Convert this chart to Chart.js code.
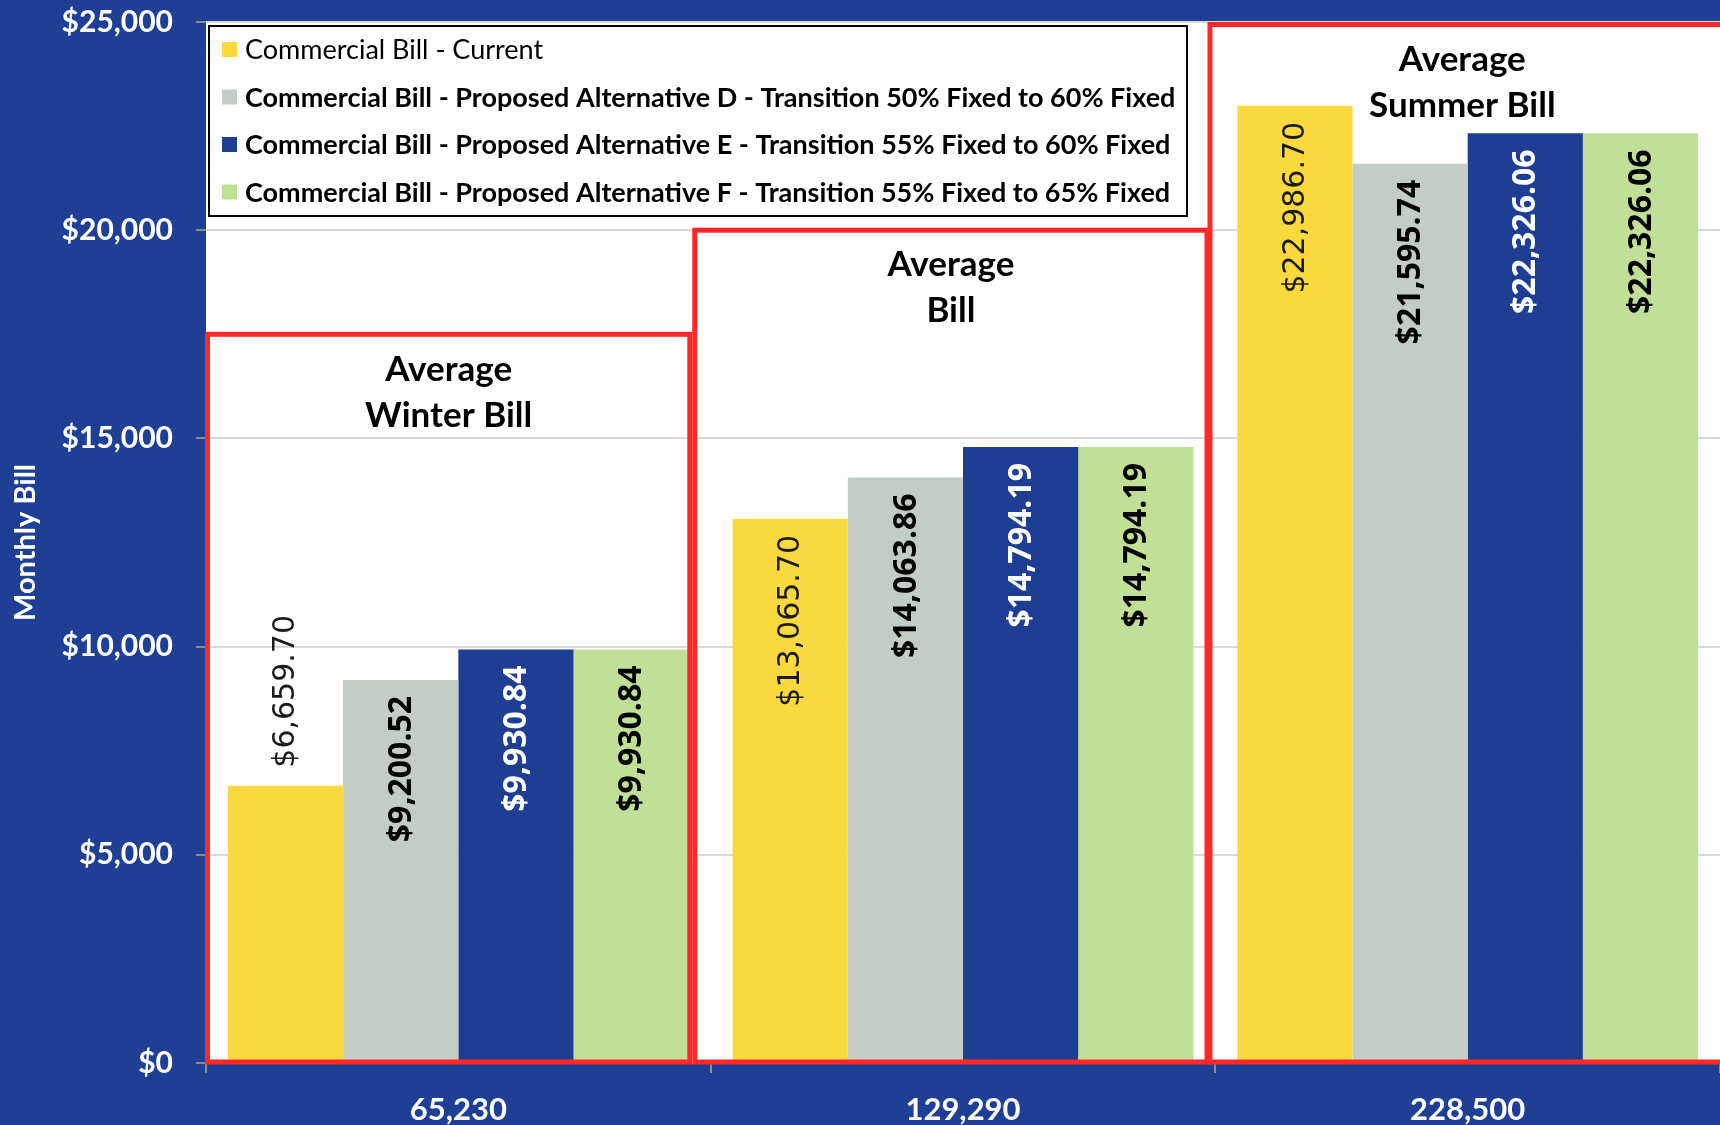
<!DOCTYPE html>
<html>
<head>
<meta charset="utf-8">
<script src="https://cdn.jsdelivr.net/npm/chart.js@4.4.1/dist/chart.umd.min.js"></script>
<style>
  html, body { margin: 0; padding: 0; background: #1E3F93; overflow: hidden; }
  canvas { display: block; }
</style>
</head>
<body>
<canvas id="billChart" width="1720" height="1125"></canvas>
<script>
// Monthly usage levels on the category axis
const categories = ['65,230', '129,290', '228,500'];

// Series names
const seriesNames = [
  'Commercial Bill - Current',
  'Commercial Bill - Proposed Alternative D - Transition 50% Fixed to 60% Fixed',
  'Commercial Bill - Proposed Alternative E - Transition 55% Fixed to 60% Fixed',
  'Commercial Bill - Proposed Alternative F - Transition 55% Fixed to 65% Fixed'
];

// Monthly bill values ($)
const currentBill = [6659.70, 13065.70, 22986.70];
const altDBill = [9200.52, 14063.86, 21595.74];
const altEBill = [9930.84, 14794.19, 22326.06];
const altFBill = [9930.84, 14794.19, 22326.06];

// Value axis ticks
const yTickValues = [0, 5000, 10000, 15000, 20000, 25000];

// Group captions and the bill level each outlined group reaches up to
const groupTitles = [['Average', 'Winter Bill'], ['Average', 'Bill'], ['Average', 'Summer Bill']];
const groupTops = [17500, 20000, 24940];

const seriesValues = [currentBill, altDBill, altEBill, altFBill];
const seriesColors = ['#F9D93E', '#C3CDC5', '#1D3E93', '#C0E098'];
const labelColors = ['#1a1a1a', '#000000', '#ffffff', '#000000'];
const FONT = 'Lato, "Open Sans", sans-serif';

// Horizontal extent of each outline, in category units
const groupSpans = [[-0.497, 0.4586], [0.4685, 1.4835], [1.4894, 2.6]];

const fmtMoney = v => '$' + v.toLocaleString('en-US', { minimumFractionDigits: 2, maximumFractionDigits: 2 });

const backgroundPlugin = {
  id: 'backgroundFill',
  beforeDraw(chart) {
    const { ctx, chartArea: a } = chart;
    ctx.save();
    ctx.fillStyle = '#1E3F93';
    ctx.fillRect(0, 0, chart.width, chart.height);
    ctx.fillStyle = '#ffffff';
    ctx.fillRect(a.left, a.top, a.right - a.left, a.bottom - a.top);
    ctx.restore();
  }
};

const groupsAndLabelsPlugin = {
  id: 'groupsAndLabels',
  afterDatasetsDraw(chart) {
    const { ctx } = chart;
    const xs = chart.scales.x, ys = chart.scales.y;
    const c0 = xs.getPixelForValue(0), c1 = xs.getPixelForValue(1);
    const unit = c1 - c0;
    const px = i => c0 + i * unit;

    // red outlines around each usage group
    ctx.save();
    ctx.strokeStyle = '#FF2828';
    ctx.lineWidth = 5;
    groupSpans.forEach((span, g) => {
      const l = px(span[0]), r = px(span[1]);
      const t = ys.getPixelForValue(groupTops[g]);
      const b = ys.getPixelForValue(0) - 1;
      ctx.strokeRect(l, t, r - l, b - t);
      // caption inside the outline, centred on its group
      ctx.fillStyle = '#000';
      ctx.font = 'bold 35px ' + FONT;
      ctx.textAlign = 'center';
      ctx.textBaseline = 'middle';
      const cx = g === 2 ? px(span[0]) + unit / 2 : (l + r) / 2;
      groupTitles[g].forEach((line, k) => ctx.fillText(line, cx, t + 35 + k * 46));
    });
    ctx.restore();

    // rotated value labels
    chart.data.datasets.forEach((ds, di) => {
      const meta = chart.getDatasetMeta(di);
      meta.data.forEach((bar, i) => {
        const outside = ds.labelPlacement && ds.labelPlacement[i] === 'outside';
        ctx.save();
        ctx.fillStyle = labelColors[di];
        ctx.font = di === 0 ? '30px "DejaVu Sans", sans-serif' : 'bold 32px "Open Sans", sans-serif';
        ctx.textBaseline = 'middle';
        if (outside) {
          ctx.translate(bar.x, bar.y - 18);
          ctx.rotate(-Math.PI / 2);
          ctx.textAlign = 'left';
        } else {
          ctx.translate(bar.x, bar.y + 16);
          ctx.rotate(-Math.PI / 2);
          ctx.textAlign = 'right';
        }
        ctx.fillText(fmtMoney(ds.data[i]), 0, 1);
        ctx.restore();
      });
    });
  }
};

const legendPlugin = {
  id: 'boxedLegend',
  afterDraw(chart) {
    const { ctx } = chart;
    ctx.save();
    ctx.fillStyle = '#ffffff';
    ctx.fillRect(209, 26, 978, 190);
    ctx.strokeStyle = '#000';
    ctx.lineWidth = 2;
    ctx.strokeRect(209, 26, 978, 190);
    chart.data.datasets.forEach((ds, i) => {
      const cy = 49.5 + i * 47.5;
      ctx.fillStyle = ds.backgroundColor;
      ctx.fillRect(222, cy - 7.5, 15, 15);
      ctx.fillStyle = '#000';
      ctx.font = (i === 0 ? '' : 'bold ') + '27px ' + FONT;
      ctx.textAlign = 'left';
      ctx.textBaseline = 'middle';
      ctx.fillText(ds.label, 245, cy + 1);
    });
    ctx.restore();
  }
};

function buildChart() {
  const ctx = document.getElementById('billChart').getContext('2d');
  new Chart(ctx, {
    type: 'bar',
    data: {
      labels: categories,
      datasets: seriesNames.map((name, i) => ({
        label: name,
        data: seriesValues[i],
        backgroundColor: seriesColors[i],
        borderWidth: 0,
        categoryPercentage: 0.913,
        barPercentage: 1,
        labelPlacement: i === 0 ? ['outside', 'inside', 'inside'] : ['inside', 'inside', 'inside']
      }))
    },
    options: {
      responsive: false,
      animation: false,
      devicePixelRatio: 1,
      layout: { padding: { top: 22, right: 0, bottom: 0, left: 0 } },
      plugins: { legend: { display: false }, tooltip: { enabled: false }, title: { display: false } },
      scales: {
        x: {
          grid: { display: true, drawOnChartArea: false, drawTicks: true, tickLength: 10, color: '#8c8c8c', lineWidth: 2 },
          border: { display: false },
          ticks: { color: '#ffffff', font: { family: FONT, size: 31, weight: 'bold' }, padding: 18 },
          afterFit(scale) { scale.height = 62; scale.paddingLeft = 0; scale.paddingRight = 0; }
        },
        y: {
          min: 0,
          max: 25000,
          afterBuildTicks(scale) { scale.ticks = yTickValues.map(v => ({ value: v })); },
          ticks: {
            color: '#ffffff',
            font: { family: FONT, size: 30, weight: 'bold' },
            padding: 23,
            callback: v => '$' + Number(v).toLocaleString('en-US')
          },
          grid: { color: '#D9D9D9', lineWidth: 2, tickColor: '#8c8c8c', tickLength: 10 },
          border: { display: false },
          title: {
            display: true,
            text: 'Monthly Bill',
            color: '#ffffff',
            font: { family: FONT, size: 29, weight: 'bold' },
            padding: { top: 8, bottom: 0 }
          },
          afterFit(scale) { scale.width = 206; scale.paddingTop = 0; scale.paddingBottom = 0; }
        }
      }
    },
    plugins: [backgroundPlugin, groupsAndLabelsPlugin, legendPlugin]
  });
}

const fontLoads = [
  'bold 28px Lato', '27px Lato', 'bold 32px "Open Sans"', '30px "DejaVu Sans"'
].map(f => document.fonts.load(f).catch(() => null));
Promise.all(fontLoads).then(buildChart, buildChart);
</script>
</body>
</html>
